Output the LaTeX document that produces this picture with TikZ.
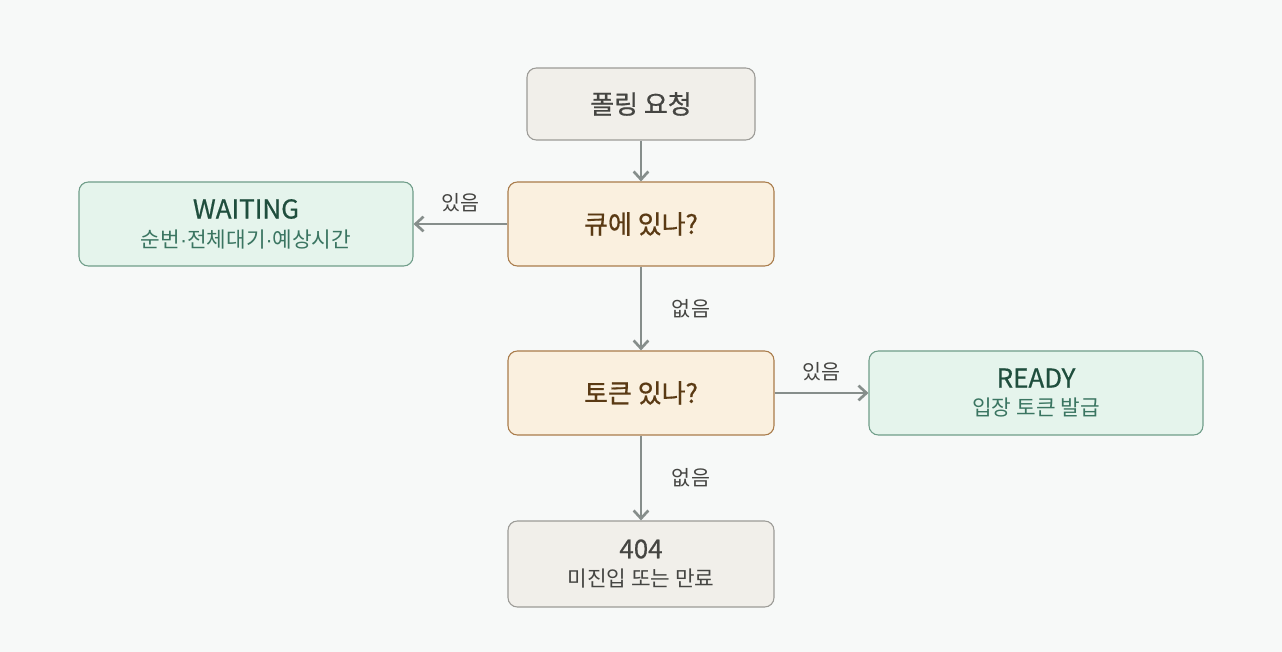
\documentclass[tikz,border=0pt]{standalone}
\usepackage{fontspec}
\setmainfont{Noto Sans CJK KR}
\newfontfamily\medfont{Noto Sans CJK KR}[FakeBold=0.6]
\newfontfamily\dotfont{Liberation Sans}
\usetikzlibrary{arrows.meta}

\definecolor{bgcol}{HTML}{F7F9F8}
\definecolor{grayfill}{HTML}{F1EFEA}
\definecolor{grayline}{HTML}{9C9B97}
\definecolor{graytext}{HTML}{454542}
\definecolor{askfill}{HTML}{FAF0DF}
\definecolor{askline}{HTML}{A97C4B}
\definecolor{asktext}{HTML}{5A3A14}
\definecolor{okfill}{HTML}{E5F4EC}
\definecolor{okline}{HTML}{6F9D89}
\definecolor{oktext}{HTML}{1F4E3D}
\definecolor{oksub}{HTML}{3A7561}
\definecolor{arrowcol}{HTML}{868E8B}

\newcommand{\bigtxt}{\medfont\fontsize{19.5}{23}\selectfont}
\newcommand{\smalltxt}{\fontsize{16}{19}\selectfont}
\newcommand{\edgesize}{\fontsize{15.5}{18}\selectfont}
\newcommand{\mdot}{{\dotfont ·}}

\begin{document}
\begin{tikzpicture}[x=0.75pt,y=0.75pt,
    box/.style={draw, rounded corners=7pt, line width=0.8pt, align=center, inner sep=0pt},
    graybox/.style={box, fill=grayfill, draw=grayline, text=graytext},
    askbox/.style={box, fill=askfill, draw=askline, text=asktext, minimum width=199.5pt, minimum height=63pt},
    okbox/.style={box, fill=okfill, draw=okline, text=oktext, minimum width=250.5pt, minimum height=63pt},
    flow/.style={draw=arrowcol, line width=2pt, -{Straight Barb[length=6pt,width=11pt,line width=2pt]}},
    edgetxt/.style={text=graytext, font=\edgesize, inner sep=0pt}]
    \fill[bgcol] (0,0) rectangle (1282,652);

    % Knoten
    \node[graybox, minimum width=171pt, minimum height=54pt, font=\bigtxt] (poll) at (641,548) {폴링 요청};
    \node[askbox, font=\bigtxt] (queue) at (641,428) {큐에 있나?};
    \node[okbox] (waiting) at (246,428) {{\bigtxt WAITING}\\[7pt]{\smalltxt\color{oksub}순번\mdot 전체대기\mdot 예상시간}};
    \node[askbox, font=\bigtxt] (token) at (641,259) {토큰 있나?};
    \node[okbox] (ready) at (1036,259) {{\bigtxt READY}\\[7pt]{\smalltxt\color{oksub}입장 토큰 발급}};
    \node[graybox, minimum width=199.5pt, minimum height=64.5pt] (nf) at (641,88) {{\bigtxt 404}\\[7pt]{\smalltxt 미진입 또는 만료}};

    % Pfeile
    \draw[flow] (poll) -- (queue);
    \draw[flow] (queue) -- (waiting) node[edgetxt, midway, yshift=15.75pt] {있음};
    \draw[flow] (queue) -- (token) node[edgetxt, midway, xshift=37.5pt] {없음};
    \draw[flow] (token) -- (ready) node[edgetxt, midway, yshift=15.75pt] {있음};
    \draw[flow] (token) -- (nf) node[edgetxt, midway, xshift=37.5pt] {없음};
\end{tikzpicture}
\end{document}
